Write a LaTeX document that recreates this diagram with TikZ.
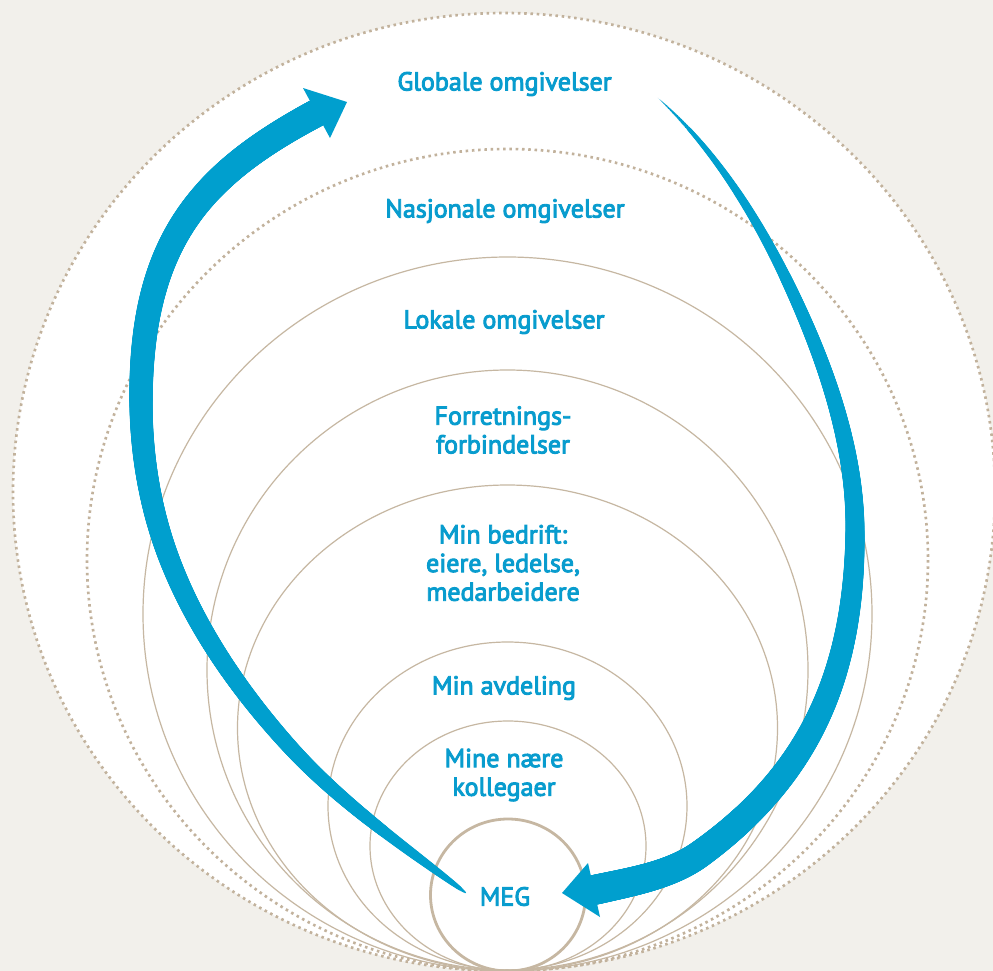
\documentclass[tikz,border=0pt]{standalone}
\usepackage{fontspec}
\setmainfont{PT Sans}
\newfontfamily\lblfont{PT Sans}[FakeBold=3.5]
\usetikzlibrary{decorations.markings}
\definecolor{bgbeige}{HTML}{F2F0EB}
\definecolor{ringtan}{HTML}{C6B7A2}
\definecolor{dottan}{HTML}{C2B29C}
\definecolor{arrowblue}{HTML}{009FCE}
\definecolor{textblue}{HTML}{089CCE}
\tikzset{
  ring/.style={draw=ringtan, line width=0.9pt},
  dotring/.style={draw=dottan, line width=2pt, dash pattern=on 1.9pt off 2.8pt},
  megring/.style={draw=ringtan, line width=2.1pt},
  lbl/.style={text=textblue, align=center, inner sep=0pt, font=\lblfont\fontsize{19.5pt}{21.5pt}\selectfont},
  arrowhead/.style={fill=arrowblue},
  taper/.style 2 args={decorate, decoration={markings,
     mark=between positions 0 and 1 step 0.7pt with {%
       \pgfmathsetmacro{\tw}{#1*(max(\pgfkeysvalueof{/pgf/decoration/mark info/distance from start},0.05)/\pgfdecoratedpathlength)^#2}%
       \fill[arrowblue] (0,0) circle [radius=\tw pt];}}}
}
\begin{document}
\begin{tikzpicture}[x=0.75pt,y=-0.75pt]
\useasboundingbox (0,0) rectangle (993,971);
\fill[bgbeige] (0,0) rectangle (993,971);
\begin{scope}
\clip (0,0) rectangle (993,971);
% outer white disc
\fill[white] (504,492) ellipse [x radius=491, y radius=479];
\draw[dotring] (504,492) ellipse [x radius=491, y radius=479];
\draw[dotring] (507.5,560) ellipse [x radius=420.5, y radius=411];
\draw[ring] (507.5,614) ellipse [x radius=364.5, y radius=357];
\draw[ring] (507.5,670) ellipse [x radius=300.5, y radius=300];
\draw[ring] (507.5,728) ellipse [x radius=270, y radius=243];
\draw[ring] (507.5,806) ellipse [x radius=179.5, y radius=164];
\draw[ring] (508,846) ellipse [x radius=138, y radius=125];
\draw[megring] (508,895) ellipse [x radius=77.5, y radius=76];
% left arrow (from MEG up to Globale)
\path[taper={10.5}{0.4}] (466,893) .. controls (405,847.3) and (341.3,803.4) .. (290,747)
  .. controls (237.8,689.6) and (192.1,623.1) .. (166,550)
  .. controls (149,502.2) and (141,450.7) .. (141,400)
  .. controls (141,240) and (201.8,174.2) .. (316.5,113);
\fill[arrowhead] (303,88) -- (347,102) -- (330,138) -- cycle;
% right arrow (from Globale down to MEG)
\path[taper={11.25}{0.65}] (658,98) .. controls (718.3,152.6) and (762.3,225.8) .. (796,300)
  .. controls (828.7,372) and (855,450.9) .. (855,530)
  .. controls (855,680) and (805.3,778) .. (700,854)
  .. controls (670,875.7) and (630.2,881.9) .. (594,890);
\fill[arrowhead] (588,863) -- (562,893) -- (600,917) -- cycle;
\end{scope}
% labels
\node[lbl] (glob) at (504.5,84) {Globale omgivelser};
\node[lbl] (nasj) at (505,211) {Nasjonale omgivelser};
\node[lbl] (lok) at (504,322) {Lokale omgivelser};
\node[lbl] (forr) at (503,430) {Forretnings-\\forbindelser};
\node[lbl] (bedr) at (503,563) {Min bedrift:\\eiere, ledelse,\\medarbeidere};
\node[lbl] (avd) at (504,688) {Min avdeling};
\node[lbl] (koll) at (504,775) {Mine nære\\kollegaer};
\node[lbl] (meg) at (505,896.5) {MEG};
\end{tikzpicture}
\end{document}
